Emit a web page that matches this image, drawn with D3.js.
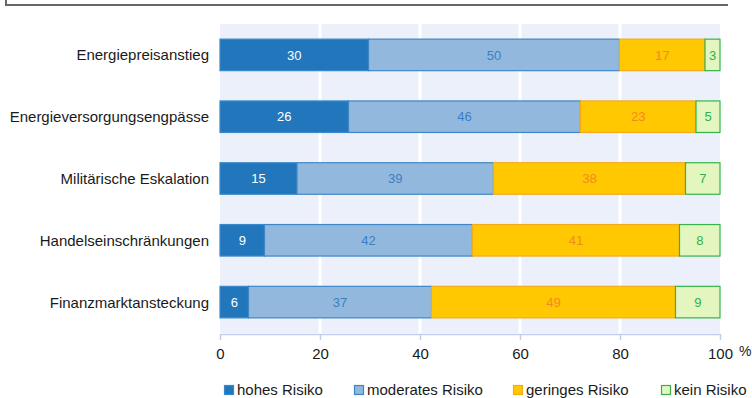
<!DOCTYPE html>
<html><head><meta charset="utf-8">
<script src="https://cdn.jsdelivr.net/npm/d3@7"></script>
<style>body{margin:0;background:#fff}svg{display:block;font-family:"Liberation Sans",Arial,sans-serif}</style>
</head><body>
<svg id="chart" width="752" height="398"></svg>
<script>
const categories = ["Energiepreisanstieg","Energieversorgungsengpässe","Militärische Eskalation","Handelseinschränkungen","Finanzmarktansteckung"];
const seriesNames = ["hohes Risiko","moderates Risiko","geringes Risiko","kein Risiko"];
const hohes    = [29.7, 25.7, 15.4, 8.9, 5.7];
const moderates= [50.2, 46.4, 39.3, 41.6, 36.6];
const geringes = [17.1, 23.1, 38.4, 41.4, 48.8];
const kein     = [3.0, 4.8, 6.9, 8.1, 8.9];
const labelsHohes = [30, 26, 15, 9, 6];
const labelsModerates = [50, 46, 39, 42, 37];
const labelsGeringes = [17, 23, 38, 41, 49];
const labelsKein = [3, 5, 7, 8, 9];
const xTicks = [0, 20, 40, 60, 80, 100];

const fills = ["#2277bc", "#93b8dd", "#ffc800", "#e3f6c0"];
const strokes = ["#3a88c9", "#3e86c7", "#f3ab1c", "#35b44b"];
const textColors = ["#ffffff", "#3b7fc4", "#f28a22", "#2eb14b"];

const svg = d3.select("#chart");
const L = 220, R = 720, T = 24, B = 333;
const x = d3.scaleLinear().domain([0, 100]).range([L, R]);
const y = d3.scaleBand().domain(categories).range([T, B]).paddingInner(0.49).paddingOuter(0.245);

// top decoration line
svg.append("path").attr("d", "M6,0V5H728").attr("fill", "none").attr("stroke", "#666").attr("stroke-width", 2);

// plot background
svg.append("rect").attr("x", L).attr("y", T).attr("width", R - L).attr("height", B - T).attr("fill", "#ecf0fa");
// grid lines
svg.selectAll("line.grid").data(xTicks.filter(d => d > 0 && d < 100)).join("line")
  .attr("x1", d => x(d)).attr("x2", d => x(d)).attr("y1", T).attr("y2", B)
  .attr("stroke", "#fff").attr("stroke-width", 3);

const values = [hohes, moderates, geringes, kein];
const labels = [labelsHohes, labelsModerates, labelsGeringes, labelsKein];
const rows = categories.map((c, i) => {
  let acc = 0;
  return values.map((arr, s) => { const v = arr[i]; const seg = {cat: c, s, x0: acc, x1: acc + v, label: labels[s][i]}; acc += v; return seg; });
});
const segs = rows.flat();

svg.append("g").selectAll("rect").data(segs).join("rect")
  .attr("x", d => x(d.x0)).attr("y", d => y(d.cat))
  .attr("width", d => x(d.x1) - x(d.x0)).attr("height", y.bandwidth())
  .attr("fill", d => fills[d.s]).attr("stroke", d => strokes[d.s]).attr("stroke-width", 1.2);

svg.append("g").selectAll("text").data(segs).join("text")
  .attr("x", d => (x(d.x0) + x(d.x1)) / 2).attr("y", d => y(d.cat) + y.bandwidth() / 2)
  .attr("dy", "0.36em").attr("text-anchor", "middle").attr("font-size", 13)
  .attr("fill", d => textColors[d.s]).text(d => d.label);

// category labels
svg.append("g").selectAll("text").data(categories).join("text")
  .attr("x", 209).attr("y", d => y(d) + y.bandwidth() / 2).attr("dy", "0.36em")
  .attr("text-anchor", "end").attr("font-size", 15).attr("fill", "#1a1a1a").text(d => d);

// x axis
const ax = svg.append("g").attr("transform", `translate(0,${B + 1})`)
  .call(d3.axisBottom(x).tickValues(xTicks).tickSize(6).tickPadding(8).tickSizeOuter(0));
ax.select(".domain").attr("stroke", "#c3cdec").attr("stroke-width", 1.5);
ax.selectAll(".tick line").attr("stroke", "#c3cdec").attr("stroke-width", 1.5);
ax.selectAll(".tick text").attr("font-size", 15).attr("fill", "#1a1a1a").attr("font-family", "Liberation Sans, Arial, sans-serif");
svg.append("text").attr("x", 739).attr("y", 356).attr("font-size", 14).attr("fill", "#1a1a1a").text("%");

// legend
const legX = [224, 354, 513, 661];
const lg = svg.append("g").selectAll("g").data(seriesNames).join("g")
  .attr("transform", (d, i) => `translate(${legX[i]},385)`);
lg.append("rect").attr("x", 0.5).attr("y", 0.5).attr("width", 9).attr("height", 9)
  .attr("fill", (d, i) => fills[i]).attr("stroke", (d, i) => strokes[i]).attr("stroke-width", 1.2);
lg.append("text").attr("x", 13).attr("y", 5).attr("dy", "0.36em").attr("font-size", 15).attr("fill", "#1a1a1a").text(d => d);
</script>
</body></html>
